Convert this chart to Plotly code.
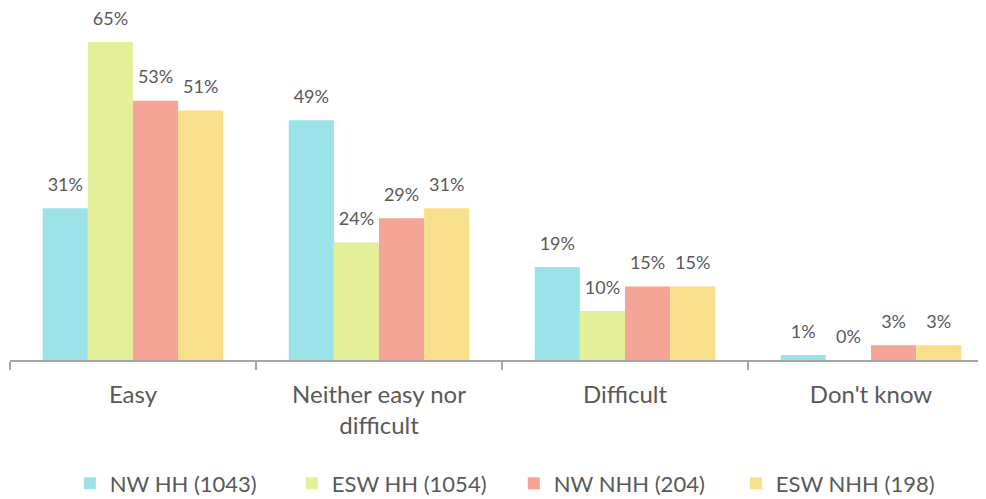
import plotly.graph_objects as go

categories = ["Easy", "Neither easy nor<br>difficult", "Difficult", "Don't know"]
series_names = ["NW HH (1043)", "ESW HH (1054)", "NW NHH (204)", "ESW NHH (198)"]
nw_hh = [31, 49, 19, 1]
esw_hh = [65, 24, 10, 0]
nw_nhh = [53, 29, 15, 3]
esw_nhh = [51, 31, 15, 3]
colors = ["#9CE3E9", "#E4EF9A", "#F6A495", "#F8DF8C"]

fig = go.Figure()
for i, (name, vals, col) in enumerate(zip(series_names, [nw_hh, esw_hh, nw_nhh, esw_nhh], colors)):
    fig.add_trace(go.Bar(
        x=categories, y=vals, name=name, marker=dict(color=col, line=dict(width=0)),
        offsetgroup=str(i), alignmentgroup="a",
    ))
for i, vals in enumerate([nw_hh, esw_hh, nw_nhh, esw_nhh]):
    fig.add_trace(go.Scatter(
        x=categories, y=vals, mode="markers+text", showlegend=False, hoverinfo="skip",
        offsetgroup=str(i), alignmentgroup="a",
        marker=dict(size=19, color="rgba(0,0,0,0)"),
        text=[f"{v}%" for v in vals], textposition="top center", cliponaxis=False,
        textfont=dict(family="Lato", size=18, color="#595959"),
    ))

fig.update_layout(
    width=986, height=499,
    margin=dict(l=2, r=0, t=12, b=147),
    barmode="group", bargap=0.266, bargroupgap=0,
    scattermode="group", scattergap=0.266,
    plot_bgcolor="white", paper_bgcolor="white",
    font=dict(family="Lato", color="#595959"),
    xaxis=dict(showline=True, linecolor="#A6A6A6", linewidth=1.5, ticks="outside",
               tickson="boundaries", ticklen=8, tickcolor="#A6A6A6", tickwidth=1.5,
               ticklabelstandoff=12,
               tickfont=dict(family="Lato", size=24, color="#595959")),
    yaxis=dict(visible=False, range=[0, 69.5]),
    legend=dict(orientation="h", x=0.512, xanchor="center", y=-0.363, yanchor="middle",
                font=dict(family="Lato", size=22, color="#595959"), itemwidth=30,
                entrywidth=177, entrywidthmode="pixels"),
    showlegend=True,
)
fig.write_html("out.html", config={"displayModeBar": False})
